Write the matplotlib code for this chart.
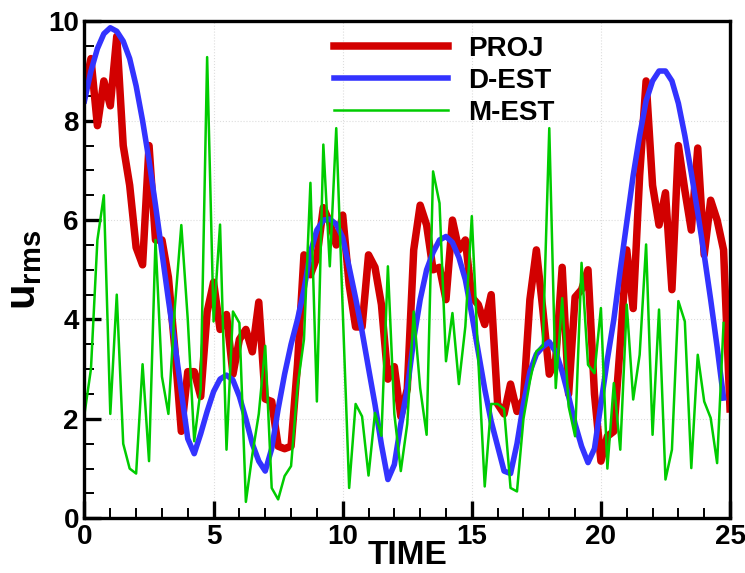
import numpy as np
import matplotlib
matplotlib.use('Agg')
import matplotlib.pyplot as plt
from matplotlib.ticker import MultipleLocator

plt.rcParams['font.family'] = ['Liberation Sans', 'DejaVu Sans']
plt.rcParams['font.weight'] = 'bold'
plt.rcParams['mathtext.fontset'] = 'custom'
plt.rcParams['mathtext.bf'] = 'Liberation Sans:bold'
plt.rcParams['mathtext.rm'] = 'Liberation Sans:bold'

dt = 0.25

proj = [8.6, 9.25, 7.9, 8.8, 8.3, 9.7, 7.5, 6.7, 5.45, 5.1,
        7.5, 5.6, 5.6, 4.85, 3.4, 1.75, 2.95, 2.95, 2.45, 4.15,
        4.75, 3.8, 4.1, 2.9, 3.6, 3.8, 3.35, 4.35, 2.4, 2.35,
        1.45, 1.4, 1.45, 3.1, 5.3, 4.9, 5.25, 6.25, 5.95, 5.5,
        6.1, 4.7, 3.85, 3.85, 5.3, 5.05, 4.3, 2.8, 3.05, 2.05,
        2.6, 5.4, 6.3, 5.9, 5.0, 5.05, 4.4, 6.0, 5.4, 5.6,
        4.45, 4.3, 3.9, 4.5, 2.3, 2.1, 2.7, 2.15, 2.4, 4.4,
        5.4, 4.2, 2.9, 3.2, 5.05, 2.5, 4.45, 4.6, 5.0, 2.5,
        1.15, 1.65, 1.75, 3.5, 5.4, 4.22, 6.9, 8.8, 6.7, 5.9,
        6.55, 4.6, 7.5, 6.6, 5.8, 7.45, 5.3, 6.4, 6.0, 5.4,
        2.2]

d_est = [8.4, 9.0, 9.45, 9.75, 9.87, 9.8, 9.6, 9.25, 8.7, 8.0,
         7.2, 6.3, 5.35, 4.4, 3.5, 2.55, 1.6, 1.3, 1.7, 2.15,
         2.55, 2.8, 2.88, 2.78, 2.45, 2.0, 1.5, 1.15, 0.95, 1.4,
         2.2, 2.9, 3.5, 4.0, 4.6, 5.35, 5.8, 6.0, 6.02, 5.92,
         5.65, 5.05, 4.43, 3.76, 3.02, 2.29, 1.48, 0.78, 1.08, 1.9,
         2.6, 3.6, 4.4, 5.0, 5.35, 5.6, 5.67, 5.55, 5.25, 4.8,
         4.1, 3.35, 2.6, 1.95, 1.45, 0.95, 0.9, 1.5, 2.3, 2.95,
         3.3, 3.45, 3.55, 3.35, 2.95, 2.45, 1.9, 1.45, 1.12, 1.4,
         2.3, 3.2, 4.0, 5.0, 5.95, 6.9, 7.7, 8.4, 8.8, 9.0,
         9.0, 8.8, 8.35, 7.7, 6.95, 6.15, 5.3, 4.4, 3.45, 2.42]

m_est = [2.1, 3.0, 5.6, 6.5, 2.1, 4.5, 1.5, 1.0, 0.9, 3.1,
         1.15, 5.6, 2.85, 2.1, 4.25, 5.9, 4.0, 1.55, 2.6, 9.28,
         3.96, 5.91, 1.38, 4.16, 3.93, 0.33, 1.28, 2.1, 3.47, 0.61,
         0.38, 0.85, 1.05, 2.65, 3.6, 6.75, 2.35, 7.52, 5.07, 7.85,
         4.2, 0.61, 2.3, 2.05, 0.86, 2.12, 1.66, 5.07, 2.1, 0.95,
         1.9, 4.16, 2.62, 1.68, 6.98, 6.34, 3.16, 4.13, 2.7, 3.86,
         6.08, 3.2, 0.64, 2.3, 2.3, 2.2, 0.61, 0.54, 2.0, 2.76,
         3.36, 3.46, 7.85, 2.62, 4.43, 2.25, 1.65, 5.14, 3.09, 2.92,
         4.23, 1.0, 2.72, 1.38, 4.3, 2.39, 3.29, 5.51, 1.68, 4.2,
         0.78, 1.38, 4.37, 3.96, 1.01, 3.29, 2.35, 2.02, 1.11, 3.93]

t_proj = np.arange(len(proj)) * dt
t_d = np.arange(len(d_est)) * dt
t_m = np.arange(len(m_est)) * dt

fig = plt.figure(figsize=(7.45, 5.73), dpi=100)
ax = fig.add_axes([0.1134, 0.0955, 0.8665, 0.8673])

ax.plot(t_proj, proj, color='#d20000', lw=5.4, label='PROJ')
ax.plot(t_d, d_est, color='#3333ff', lw=4.0, label='D-EST')
ax.plot(t_m, m_est, color='#00cc00', lw=1.8, label='M-EST')

ax.set_xlim(0, 25)
ax.set_ylim(0, 10)
ax.xaxis.set_major_locator(MultipleLocator(5))
ax.xaxis.set_minor_locator(MultipleLocator(1))
ax.yaxis.set_major_locator(MultipleLocator(2))
ax.yaxis.set_minor_locator(MultipleLocator(0.5))
ax.tick_params(which='major', direction='in', length=12, width=2.4, labelsize=20, pad=4)
ax.tick_params(which='minor', direction='in', length=7, width=1.4)
for s in ax.spines.values():
    s.set_linewidth(2.4)
ax.grid(True, which='major', color='#dddddd', linestyle=':', linewidth=0.8)

ax.set_xlabel('TIME', fontsize=24, fontweight='bold', labelpad=-7)
ax.set_ylabel(r'$\mathbf{u}_{\mathbf{rms}}$', fontsize=30, labelpad=3)

ax.legend(loc='upper left', bbox_to_anchor=(0.387, 0.971), frameon=False,
          fontsize=20, handlelength=4.1, handletextpad=0.72, labelspacing=0.22,
          borderpad=0, borderaxespad=0)

plt.savefig('out.png', dpi=100)
